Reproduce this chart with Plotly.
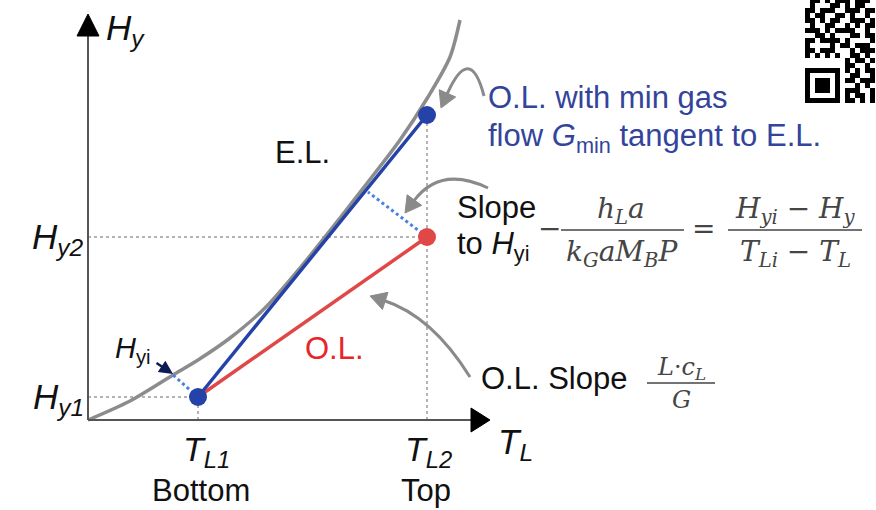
import math
import plotly.graph_objects as go

W, H = 876, 510

# ---------------- data (T_L offset units, H_y offset units) ----------------
EL_T = [0, 42, 85, 110, 142, 177, 212, 252, 280, 312, 340, 362, 372]
EL_H = [0, 19, 45, 60, 82, 112, 152, 202, 238, 280, 323, 363, 400]
T_L1, T_L2 = 110, 339
H_Y1, H_Y2 = 23, 183
H_YTOP = 305                 # top of O.L. with minimum gas flow
HYI_BOT_T, HYI_BOT_H = 85, 45
HYI_TOP_T, HYI_TOP_H = 280, 228
AXIS_T_MAX, AXIS_H_MAX = 383, 384
AXIS_T_TIP, AXIS_H_TIP = 402, 406

QR_ROWS = [
    "01101011101110",
    "01000110101100",
    "11011100111011",
    "10110011010010",
    "11010110011101",
    "01001100101011",
    "11101011110010",
    "00110100011011",
    "11011110100001",
    "10000101101110",
    "11011100010111",
    "10101010011010",
    "00000000101101",
    "00000000110010",
    "11111110101011",
    "10000010011001",
    "10111010110111",
    "10111010001010",
    "10111010111001",
    "10000010101101",
    "11111110110101",
]

# ---------------- helpers ----------------
def px(x):
    return x / W

def py(y):
    return 1 - y / H

SANS = "Liberation Sans, Arial, sans-serif"
SERIF = "DejaVu Serif, Liberation Serif, serif"
GRAY_ARROW = "#8a8a8a"
BLUE = "#2442a8"
RED = "#e04848"
DOT_BLUE = "#4a7fe8"
TEXT_BLUE = "#33449b"
EQ = "#454545"

fig = go.Figure()

# guides (gray dotted)
guide = dict(color="#9a9a9a", width=1.5, dash="dot")
fig.add_trace(go.Scatter(x=[0, T_L2], y=[H_Y2, H_Y2], mode="lines", line=guide, hoverinfo="skip"))
fig.add_trace(go.Scatter(x=[0, T_L1], y=[H_Y1, H_Y1], mode="lines", line=guide, hoverinfo="skip"))
fig.add_trace(go.Scatter(x=[T_L1, T_L1], y=[0, H_Y1], mode="lines", line=guide, hoverinfo="skip"))
fig.add_trace(go.Scatter(x=[T_L2, T_L2], y=[0, H_YTOP], mode="lines", line=guide, hoverinfo="skip"))

# equilibrium line
fig.add_trace(go.Scatter(x=EL_T, y=EL_H, mode="lines",
                         line=dict(color="#8c8c8c", width=3.5, shape="spline", smoothing=0.8),
                         hoverinfo="skip"))

# interface tie lines (blue dotted)
tie = dict(color=DOT_BLUE, width=3, dash="dot")
fig.add_trace(go.Scatter(x=[T_L1, HYI_BOT_T], y=[H_Y1, HYI_BOT_H], mode="lines", line=tie, hoverinfo="skip"))
fig.add_trace(go.Scatter(x=[T_L2, HYI_TOP_T], y=[H_Y2, HYI_TOP_H], mode="lines", line=tie, hoverinfo="skip"))

# operating lines
fig.add_trace(go.Scatter(x=[T_L1, T_L2], y=[H_Y1, H_Y2], mode="lines",
                         line=dict(color=RED, width=3.5), hoverinfo="skip"))
fig.add_trace(go.Scatter(x=[T_L1, T_L2], y=[H_Y1, H_YTOP], mode="lines",
                         line=dict(color=BLUE, width=3.5), hoverinfo="skip"))

# points
fig.add_trace(go.Scatter(x=[T_L2], y=[H_Y2], mode="markers",
                         marker=dict(color=RED, size=18), hoverinfo="skip"))
fig.add_trace(go.Scatter(x=[T_L1, T_L2], y=[H_Y1, H_YTOP], mode="markers",
                         marker=dict(color=BLUE, size=18), hoverinfo="skip"))

# QR-like code (decoration)
z = [[int(c) for c in row] for row in QR_ROWS]
fig.add_trace(go.Heatmap(z=z, xaxis="x2", yaxis="y2", showscale=False,
                         colorscale=[[0, "white"], [1, "black"]], hoverinfo="skip"))

shapes = []
# axes
shapes.append(dict(type="line", xref="x", yref="y", x0=0, y0=0, x1=0, y1=AXIS_H_MAX,
                   line=dict(color="#555", width=2)))
shapes.append(dict(type="line", xref="x", yref="y", x0=0, y0=0, x1=AXIS_T_MAX, y1=0,
                   line=dict(color="#555", width=2)))
shapes.append(dict(type="path", xref="x", yref="y",
                   path=f"M -11,{AXIS_H_MAX} L 11,{AXIS_H_MAX} L 0,{AXIS_H_TIP} Z",
                   fillcolor="black", line=dict(color="black", width=1)))
shapes.append(dict(type="path", xref="x", yref="y",
                   path=f"M {AXIS_T_MAX},-12 L {AXIS_T_MAX},12 L {AXIS_T_TIP},0 Z",
                   fillcolor="black", line=dict(color="black", width=1)))


def curved_arrow(start, ctrl, tip, color=GRAY_ARROW, width=3, hl=16, hw=9):
    dx, dy = tip[0] - ctrl[0], tip[1] - ctrl[1]
    n = math.hypot(dx, dy)
    dx, dy = dx / n, dy / n
    bx, by = tip[0] - dx * hl, tip[1] - dy * hl
    lx, ly = bx - dy * hw, by + dx * hw
    rx, ry = bx + dy * hw, by - dx * hw
    ex, ey = tip[0] - dx * (hl - 2), tip[1] - dy * (hl - 2)
    shapes.append(dict(type="path", xref="paper", yref="paper",
                       path=f"M {px(start[0])},{py(start[1])} Q {px(ctrl[0])},{py(ctrl[1])} {px(ex)},{py(ey)}",
                       line=dict(color=color, width=width)))
    shapes.append(dict(type="path", xref="paper", yref="paper",
                       path=f"M {px(tip[0])},{py(tip[1])} L {px(lx)},{py(ly)} L {px(rx)},{py(ry)} Z",
                       fillcolor=color, line=dict(color=color, width=1)))


curved_arrow((484, 96), (470, 42), (441, 108))
curved_arrow((488, 188), (440, 165), (405, 213))
curved_arrow((470, 377), (432, 316), (370, 296))

# fraction bars
for x0, x1, y in [(561, 684, 230), (728, 862, 230), (647, 715, 383)]:
    shapes.append(dict(type="line", xref="paper", yref="paper",
                       x0=px(x0), x1=px(x1), y0=py(y), y1=py(y),
                       line=dict(color=EQ, width=1.5)))

ann = []


def txt(x, y, text, size=31, color="#111", xanchor="center", yanchor="middle", family=SANS):
    ann.append(dict(x=px(x), y=py(y), xref="paper", yref="paper", text=text, showarrow=False,
                    xanchor=xanchor, yanchor=yanchor,
                    font=dict(size=size, color=color, family=family)))


# axis labels
txt(104, 30, "<i>H</i><sub><i>y</i></sub>", size=35, xanchor="left")
txt(86, 239, "<i>H</i><sub><i>y2</i></sub>", size=35, xanchor="right")
txt(86, 399, "<i>H</i><sub><i>y1</i></sub>", size=35, xanchor="right")
txt(206, 451, "<i>T</i><sub><i>L1</i></sub>", size=34)
txt(201, 490, "Bottom", size=31)
txt(428, 451, "<i>T</i><sub><i>L2</i></sub>", size=34)
txt(426, 490, "Top", size=31)
txt(496, 444, "<i>T</i><sub><i>L</i></sub>", size=35, xanchor="left")

# in-plot labels
txt(273, 152, "E.L.", size=31, xanchor="left")
txt(303, 348, "O.L.", size=31, color="#e8262a", xanchor="left")
txt(113, 350, "<i>H</i><sub>yi</sub>", size=29, xanchor="left")
txt(486, 98, "O.L. with min gas", size=31, color=TEXT_BLUE, xanchor="left")
txt(486, 138, "flow <i>G</i><sub>min</sub> tangent to E.L.", size=31, color=TEXT_BLUE, xanchor="left")
txt(455, 207, "Slope", size=31, xanchor="left")
txt(455, 246, "to <i>H</i><sub>yi</sub>", size=31, xanchor="left")
txt(479, 378, "O.L. Slope", size=31, xanchor="left")

# equations
EQS = 28
txt(549, 229, "−", size=EQS, color=EQ, family=SERIF)
txt(621, 210, "<i>h</i><sub><i>L</i></sub><i>a</i>", size=EQS, color=EQ, family=SERIF)
txt(622, 253, "<i>k</i><sub><i>G</i></sub><i>aM</i><sub><i>B</i></sub><i>P</i>", size=EQS, color=EQ, family=SERIF)
txt(703, 229, "=", size=EQS, color=EQ, family=SERIF)
txt(795, 210, "<i>H</i><sub><i>yi</i></sub> − <i>H</i><sub><i>y</i></sub>", size=EQS, color=EQ, family=SERIF)
txt(795, 253, "<i>T</i><sub><i>Li</i></sub> − <i>T</i><sub><i>L</i></sub>", size=EQS, color=EQ, family=SERIF)
txt(681, 368, "<i>L</i>·<i>c</i><sub><i>L</i></sub>", size=24, color=EQ, family=SERIF)
txt(681, 400, "<i>G</i>", size=24, color=EQ, family=SERIF)

# small navy arrow to H_yi
ann.append(dict(x=px(173), y=py(374), xref="paper", yref="paper", ax=-18, ay=-12,
                text="", showarrow=True, arrowhead=2, arrowsize=1.1, arrowwidth=2.5,
                arrowcolor="#0d1b57", standoff=0))

fig.update_layout(
    width=W, height=H,
    margin=dict(l=0, r=0, t=0, b=0),
    paper_bgcolor="white", plot_bgcolor="white",
    showlegend=False,
    xaxis=dict(range=[-88, W - 88], visible=False, domain=[0, 1], fixedrange=True),
    yaxis=dict(range=[-90, H - 90], visible=False, domain=[0, 1], fixedrange=True),
    xaxis2=dict(domain=[805 / W, 1], range=[-0.5, 13.7], visible=False, anchor="y2", fixedrange=True),
    yaxis2=dict(domain=[py(103), 1], range=[20.5, -0.1], visible=False, anchor="x2", fixedrange=True),
    shapes=shapes,
    annotations=ann,
)

fig.write_html("out.html", config={"displayModeBar": False},
               post_script="document.body.style.margin='0px';")
